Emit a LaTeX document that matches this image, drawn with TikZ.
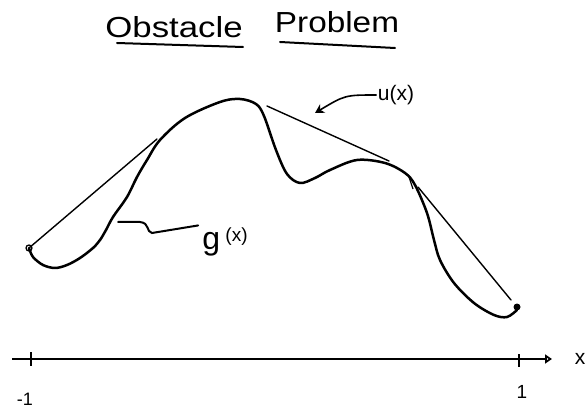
\documentclass[tikz,border=0pt]{standalone}
\usepackage{fontspec}
\setmainfont{Liberation Sans}
\usetikzlibrary{arrows.meta}
\tikzset{
  gcurve/.style={line width=2.5pt, line cap=round, line join=round},
  thinline/.style={line width=1.4pt, line cap=round},
  axisline/.style={line width=2.2pt},
  ticks/.style={line width=2pt},
  ulinestyle/.style={line width=2pt, line cap=round},
  lab/.style={inner sep=0pt, anchor=base},
}
\begin{document}
\begin{tikzpicture}[x=1pt,y=-1pt]
\useasboundingbox (0,0) rectangle (587,409);
% title
\node[lab] (t1) at (174,38) {\fontsize{29}{29}\selectfont\scalebox{1.2}[1]{Obstacle}};
\node[lab] (t2) at (337,33) {\fontsize{29}{29}\selectfont\scalebox{1.15}[1]{Problem}};
\draw[ulinestyle] (117,43) -- (243,47);
\draw[ulinestyle] (280,42) -- (395,48);
% obstacle curve g(x)
\draw[gcurve] plot[smooth, tension=0.55] coordinates {
 (29,248) (33,257) (43,265) (55,268) (67,265) (80,258) (93,248) (100,240)
 (106,230) (113,217) (127,197) (137,177) (147,160) (160,140) (185,118)
 (220,102) (240,99) (256,104) (264,116) (276,150) (287,174) (300,183)
 (315,178) (330,170) (357,160) (385,163) (405,173) (415,185) (427,213)
 (434,240) (440,260) (454,283) (474,303) (494,315) (507,317) (517,310)};
% solution u(x): straight pieces
\coordinate (lend) at (29,248);
\coordinate (ltop) at (157,139);
\draw[thinline] (lend) -- (ltop);
\coordinate (mstart) at (267,106);
\coordinate (mend) at (389,161);
\draw[thinline] (mstart) -- (mend);
\coordinate (rstart) at (418,187);
\coordinate (rend) at (511,300);
\draw[thinline] (rstart) -- (rend);
\draw[line width=1.2pt] (409,177) -- (413,189);
% end points
\node[draw, circle, line width=1.3pt, minimum size=6pt, inner sep=0pt] (pl) at (29,248) {};
\node[fill, circle, minimum size=7pt, inner sep=0pt] (pr) at (517,307) {};
% labels
\node[inner sep=1pt] (ulab) at (396,95) {\fontsize{21}{21}\selectfont u(x)};
\coordinate (utip) at (315,113);
\draw[line width=1.6pt, -{Stealth[length=9pt,width=10pt]}] (ulab.west) .. controls (345,95) .. (utip);
\node[lab] (glab) at (225,250) {\fontsize{32}{32}\selectfont g\,\raisebox{8pt}{\fontsize{19}{19}\selectfont(x)}};
\coordinate (gtouch) at (118,222);
\draw[line width=2pt, line cap=round] (glab.west) ++(-4,-17) coordinate (gs)
  (gs) -- (152,233) .. controls (146,232) and (150,223) .. (140,222) -- (gtouch);
% axis
\coordinate (ax0) at (12,359);
\coordinate (ax1) at (552,359);
\draw[axisline, -{Triangle[open, length=7pt, width=9pt]}] (ax0) -- (ax1);
\draw[ticks] (31,352) -- (31,366);
\draw[ticks] (519,354) -- (519,367);
\node[inner sep=0pt] (xl) at (580,359) {\fontsize{21}{21}\selectfont x};
\node[lab] (one) at (522,398) {\fontsize{19}{19}\selectfont 1};
\node[lab] (mone) at (25,405) {\fontsize{18}{18}\selectfont -1};
\end{tikzpicture}
\end{document}
